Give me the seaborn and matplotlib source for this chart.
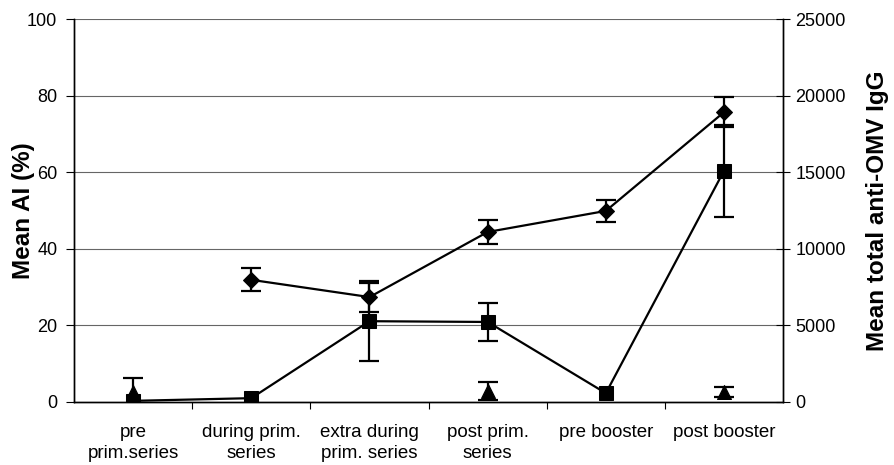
import numpy as np
import pandas as pd
import matplotlib
matplotlib.use("Agg")
import matplotlib.pyplot as plt
import seaborn as sns

categories = ["pre\nprim.series", "during prim.\nseries", "extra during\nprim. series",
              "post prim.\nseries", "pre booster", "post booster"]
ai_mean = [np.nan, 31.9, 27.4, 44.4, 49.9, 75.7]
ai_err = [np.nan, 3.0, 3.8, 3.2, 2.9, 3.9]
igg_mean = [75, 250, 5275, 5225, 575, 15100]
igg_err = [0, 0, 2600, 1250, 0, 3000]
tri_mean = [2.5, np.nan, np.nan, 2.8, np.nan, 2.7]
tri_err = [3.7, np.nan, np.nan, 2.4, np.nan, 1.3]
left_ticks = [0, 20, 40, 60, 80, 100]
right_ticks = [0, 5000, 10000, 15000, 20000, 25000]

sns.set_theme(style="white")
plt.rcParams['font.family'] = ['Liberation Sans', 'DejaVu Sans']
plt.rcParams['text.color'] = 'black'
plt.rcParams['axes.labelcolor'] = 'black'
plt.rcParams['xtick.color'] = 'black'
plt.rcParams['ytick.color'] = 'black'

fig = plt.figure(figsize=(8.95, 4.65), dpi=100)
ax = fig.add_axes([0.0827, 0.1355, 0.7923, 0.8235])
ax2 = ax.twinx()
# left axis drawn above the right one
ax.set_zorder(ax2.get_zorder() + 1)
ax.patch.set_visible(False)

x = np.arange(len(categories))
df = pd.DataFrame({"x": x, "ai": ai_mean, "ai_err": ai_err, "igg": igg_mean,
                   "igg_err": igg_err, "tri": tri_mean, "tri_err": tri_err})

# gridlines (behind everything, on the right axes)
for t in right_ticks[1:]:
    ax2.axhline(t, color="#666666", lw=0.8, zorder=0)

# IgG squares (right axis)
sns.lineplot(data=df, x="x", y="igg", ax=ax2, color="black", lw=1.6, marker="s",
             markersize=10, markeredgecolor="black", zorder=3)
e = df[df["igg_err"] > 0]
ax2.errorbar(e["x"], e["igg"], yerr=e["igg_err"], fmt="none", ecolor="black",
             elinewidth=1.6, capsize=7, capthick=1.6, zorder=3)

# AI diamonds (left axis)
d = df.dropna(subset=["ai"])
sns.lineplot(data=d, x="x", y="ai", ax=ax, color="black", lw=1.6, marker="D",
             markersize=8, markeredgecolor="black", zorder=3)
ax.errorbar(d["x"], d["ai"], yerr=d["ai_err"], fmt="none", ecolor="black",
            elinewidth=1.6, capsize=7, capthick=1.6, zorder=3)

# triangles (left axis)
t = df.dropna(subset=["tri"])
sns.scatterplot(data=t, x="x", y="tri", ax=ax, color="black", marker="^", s=100,
                edgecolor="black", zorder=4, clip_on=False)
ax.errorbar(t["x"], t["tri"], yerr=t["tri_err"], fmt="none", ecolor="black",
            elinewidth=1.6, capsize=7, capthick=1.6, zorder=4)

ax.set_xlim(-0.5, len(categories) - 0.5)
ax.set_ylim(0, 100)
ax2.set_ylim(0, 25000)
ax.set_yticks(left_ticks)
ax2.set_yticks(right_ticks)
ax.set_xticks(x)
ax.set_xticklabels(categories, fontsize=13.5, linespacing=1.3)
ax.set_xticks(np.arange(0.5, len(categories) - 0.5, 1), minor=True)
ax.tick_params(axis="x", which="major", length=0, pad=16)
ax.tick_params(axis="x", which="minor", length=5, width=0.8, color="black", direction="out", bottom=True)
ax.tick_params(axis="y", length=6, width=0.8, color="black", direction="out", labelsize=13, left=True, pad=6)
ax2.tick_params(axis="y", length=10, width=0.8, color="black", direction="inout", labelsize=13, right=True, pad=4)
ax.set_xlabel("")
ax2.set_xlabel("")
ax.set_ylabel("Mean AI (%)", fontsize=17.5, fontweight="bold")
ax2.set_ylabel("Mean total anti-OMV IgG", fontsize=17.5, fontweight="bold")
ax.yaxis.set_label_coords(-0.055, 0.5)
ax2.yaxis.set_label_coords(1.117, 0.5)

for a in (ax, ax2):
    a.spines["top"].set_visible(False)
    for s in ["left", "right", "bottom"]:
        a.spines[s].set_color("black")
        a.spines[s].set_linewidth(1.0)
    a.grid(False)

fig.savefig("out.png", dpi=100, facecolor="white")
